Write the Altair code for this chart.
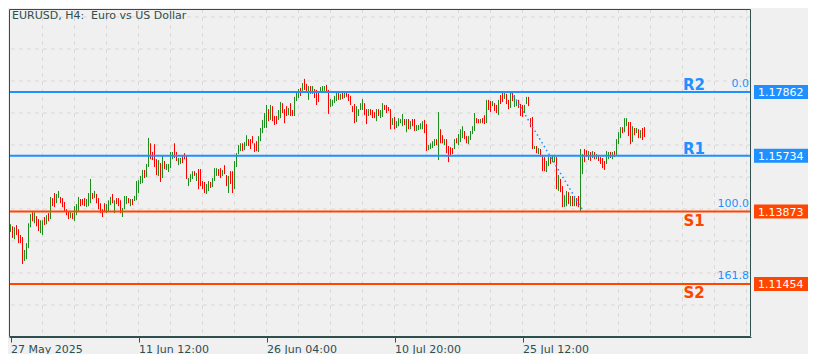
import json
import numpy as np
import pandas as pd
import altair as alt

# ---------------- data ----------------
highs = [
    1.1345, 1.1338, 1.1335, 1.1342, 1.1328, 1.1309, 1.1302, 1.1259, 1.1282, 1.1348,
    1.1379, 1.1385, 1.1385, 1.1372, 1.1362, 1.1358, 1.1358, 1.1369, 1.1375, 1.1382,
    1.1436, 1.1432, 1.1449, 1.1446, 1.1456, 1.1436, 1.1432, 1.1419, 1.1395, 1.1389,
    1.1385, 1.1382, 1.1405, 1.1412, 1.1436, 1.1429, 1.1429, 1.1432, 1.1429, 1.1449,
    1.1496, 1.1449, 1.1456, 1.1446, 1.1432, 1.1415, 1.1395, 1.1415, 1.1412, 1.1425,
    1.1436, 1.1446, 1.1425, 1.1432, 1.1432, 1.1425, 1.1399, 1.1439, 1.1439, 1.1432,
    1.1429, 1.1429, 1.1439, 1.1489, 1.1492, 1.1506, 1.1526, 1.1526, 1.1546, 1.1633,
    1.1615, 1.1586, 1.1612, 1.1562, 1.1559, 1.1549, 1.1576, 1.1556, 1.1546, 1.1546,
    1.1586, 1.1586, 1.1615, 1.1586, 1.1566, 1.1566, 1.1572, 1.1582, 1.1576, 1.1499,
    1.1512, 1.1522, 1.1522, 1.1516, 1.1529, 1.1529, 1.1489, 1.1486, 1.1479, 1.1489,
    1.1486, 1.1499, 1.1532, 1.1532, 1.1529, 1.1532, 1.1526, 1.1542, 1.1509, 1.1506,
    1.1522, 1.1522, 1.1556, 1.1582, 1.1609, 1.1615, 1.1615, 1.1619, 1.1642, 1.1629,
    1.1629, 1.1639, 1.1615, 1.1622, 1.1639, 1.1666, 1.1693, 1.1716, 1.1743, 1.1729,
    1.1743, 1.1739, 1.1706, 1.1706, 1.1726, 1.1753, 1.1749, 1.1729, 1.1739, 1.1733,
    1.1749, 1.1726, 1.1770, 1.1786, 1.1796, 1.1800, 1.1816, 1.1830, 1.1813, 1.1806,
    1.1806, 1.1806, 1.1796, 1.1793, 1.1786, 1.1803, 1.1806, 1.1806, 1.1810, 1.1793,
    1.1763, 1.1760, 1.1773, 1.1783, 1.1786, 1.1780, 1.1783, 1.1786, 1.1786, 1.1780,
    1.1773, 1.1739, 1.1746, 1.1739, 1.1729, 1.1749, 1.1763, 1.1749, 1.1729, 1.1729,
    1.1729, 1.1726, 1.1719, 1.1729, 1.1729, 1.1726, 1.1749, 1.1743, 1.1743, 1.1736,
    1.1729, 1.1699, 1.1703, 1.1689, 1.1699, 1.1696, 1.1713, 1.1696, 1.1696, 1.1696,
    1.1689, 1.1696, 1.1696, 1.1676, 1.1676, 1.1682, 1.1689, 1.1693, 1.1679, 1.1609,
    1.1615, 1.1622, 1.1629, 1.1629, 1.1719, 1.1662, 1.1642, 1.1629, 1.1629, 1.1606,
    1.1602, 1.1599, 1.1629, 1.1632, 1.1646, 1.1662, 1.1672, 1.1656, 1.1639, 1.1639,
    1.1656, 1.1672, 1.1716, 1.1699, 1.1696, 1.1696, 1.1699, 1.1709, 1.1760, 1.1760,
    1.1756, 1.1756, 1.1749, 1.1743, 1.1760, 1.1776, 1.1783, 1.1783, 1.1780, 1.1760,
    1.1783, 1.1783, 1.1776, 1.1760, 1.1760, 1.1746, 1.1743, 1.1743, 1.1770, 1.1770,
    1.1699, 1.1703, 1.1606, 1.1606, 1.1599, 1.1596, 1.1576, 1.1569, 1.1556, 1.1569,
    1.1569, 1.1576, 1.1572, 1.1569, 1.1509, 1.1496, 1.1472, 1.1442, 1.1456, 1.1452,
    1.1439, 1.1439, 1.1436, 1.1432, 1.1439, 1.1596, 1.1579, 1.1596, 1.1592, 1.1589,
    1.1586, 1.1589, 1.1586, 1.1579, 1.1576, 1.1569, 1.1566, 1.1556, 1.1589, 1.1586,
    1.1586, 1.1586, 1.1589, 1.1629, 1.1652, 1.1669, 1.1669, 1.1699, 1.1699, 1.1686,
    1.1686, 1.1672, 1.1666, 1.1666, 1.1662, 1.1659, 1.1666, 1.1669,
]

lows = [
    1.1319, 1.1299, 1.1295, 1.1309, 1.1282, 1.1282, 1.1212, 1.1222, 1.1228, 1.1265,
    1.1335, 1.1355, 1.1348, 1.1338, 1.1322, 1.1315, 1.1309, 1.1342, 1.1345, 1.1355,
    1.1362, 1.1405, 1.1402, 1.1415, 1.1432, 1.1415, 1.1402, 1.1389, 1.1375, 1.1362,
    1.1365, 1.1362, 1.1355, 1.1375, 1.1389, 1.1405, 1.1409, 1.1405, 1.1402, 1.1405,
    1.1415, 1.1429, 1.1432, 1.1415, 1.1395, 1.1382, 1.1369, 1.1385, 1.1382, 1.1389,
    1.1409, 1.1415, 1.1382, 1.1412, 1.1405, 1.1382, 1.1369, 1.1395, 1.1412, 1.1415,
    1.1405, 1.1409, 1.1422, 1.1425, 1.1449, 1.1479, 1.1482, 1.1499, 1.1502, 1.1536,
    1.1562, 1.1559, 1.1536, 1.1509, 1.1506, 1.1486, 1.1499, 1.1529, 1.1526, 1.1519,
    1.1532, 1.1562, 1.1566, 1.1556, 1.1542, 1.1546, 1.1549, 1.1562, 1.1496, 1.1472,
    1.1486, 1.1496, 1.1506, 1.1489, 1.1462, 1.1472, 1.1462, 1.1449, 1.1446, 1.1456,
    1.1466, 1.1469, 1.1489, 1.1506, 1.1506, 1.1499, 1.1506, 1.1512, 1.1472, 1.1449,
    1.1479, 1.1449, 1.1462, 1.1536, 1.1579, 1.1589, 1.1589, 1.1592, 1.1606, 1.1606,
    1.1596, 1.1615, 1.1586, 1.1589, 1.1586, 1.1622, 1.1649, 1.1666, 1.1666, 1.1689,
    1.1693, 1.1689, 1.1676, 1.1679, 1.1693, 1.1699, 1.1716, 1.1682, 1.1706, 1.1709,
    1.1706, 1.1706, 1.1706, 1.1756, 1.1766, 1.1773, 1.1790, 1.1793, 1.1790, 1.1760,
    1.1780, 1.1780, 1.1766, 1.1743, 1.1753, 1.1783, 1.1783, 1.1790, 1.1786, 1.1713,
    1.1736, 1.1739, 1.1749, 1.1756, 1.1760, 1.1760, 1.1763, 1.1766, 1.1770, 1.1756,
    1.1743, 1.1719, 1.1682, 1.1686, 1.1706, 1.1726, 1.1726, 1.1709, 1.1679, 1.1706,
    1.1709, 1.1699, 1.1699, 1.1689, 1.1706, 1.1699, 1.1703, 1.1726, 1.1716, 1.1723,
    1.1662, 1.1676, 1.1662, 1.1666, 1.1672, 1.1682, 1.1672, 1.1676, 1.1652, 1.1662,
    1.1662, 1.1672, 1.1656, 1.1656, 1.1659, 1.1662, 1.1662, 1.1649, 1.1589, 1.1592,
    1.1596, 1.1599, 1.1606, 1.1609, 1.1559, 1.1615, 1.1615, 1.1609, 1.1582, 1.1552,
    1.1572, 1.1579, 1.1596, 1.1615, 1.1609, 1.1619, 1.1632, 1.1629, 1.1615, 1.1612,
    1.1626, 1.1646, 1.1656, 1.1682, 1.1682, 1.1682, 1.1682, 1.1679, 1.1682, 1.1726,
    1.1719, 1.1739, 1.1723, 1.1716, 1.1709, 1.1746, 1.1753, 1.1763, 1.1746, 1.1729,
    1.1733, 1.1756, 1.1736, 1.1739, 1.1733, 1.1706, 1.1703, 1.1716, 1.1746, 1.1739,
    1.1669, 1.1596, 1.1596, 1.1582, 1.1579, 1.1572, 1.1522, 1.1522, 1.1519, 1.1539,
    1.1546, 1.1552, 1.1552, 1.1462, 1.1456, 1.1452, 1.1402, 1.1402, 1.1405, 1.1412,
    1.1405, 1.1405, 1.1405, 1.1405, 1.1402, 1.1389, 1.1512, 1.1552, 1.1569, 1.1559,
    1.1556, 1.1566, 1.1562, 1.1562, 1.1556, 1.1546, 1.1532, 1.1526, 1.1546, 1.1562,
    1.1566, 1.1562, 1.1569, 1.1576, 1.1612, 1.1632, 1.1649, 1.1652, 1.1672, 1.1639,
    1.1612, 1.1619, 1.1642, 1.1649, 1.1632, 1.1632, 1.1626, 1.1636,
]

# 1 = bullish (green) candle, 0 = bearish (red) candle
bull = [
    1, 0, 1, 0, 0, 0, 0, 1, 1, 1,
    1, 0, 1, 0, 0, 1, 1, 0, 1, 0,
    1, 0, 0, 1, 1, 0, 0, 0, 0, 0,
    1, 0, 1, 1, 1, 0, 0, 0, 1, 1,
    1, 0, 1, 0, 0, 0, 0, 0, 1, 1,
    1, 0, 1, 0, 0, 0, 1, 1, 1, 0,
    1, 0, 1, 1, 1, 1, 1, 0, 1, 1,
    0, 0, 0, 0, 1, 0, 1, 0, 1, 1,
    1, 1, 0, 0, 1, 1, 0, 0, 0, 1,
    1, 1, 0, 1, 0, 0, 0, 0, 1, 1,
    0, 1, 1, 1, 0, 0, 1, 0, 0, 1,
    0, 0, 1, 1, 1, 1, 0, 1, 1, 0,
    0, 0, 0, 0, 1, 1, 1, 1, 1, 0,
    1, 0, 0, 0, 1, 1, 0, 0, 0, 1,
    0, 0, 1, 1, 1, 0, 1, 0, 0, 1,
    0, 1, 0, 0, 0, 1, 1, 1, 0, 0,
    1, 1, 1, 1, 0, 1, 0, 1, 0, 0,
    0, 0, 0, 1, 1, 1, 1, 0, 0, 1,
    0, 0, 0, 1, 0, 1, 1, 0, 0, 0,
    0, 1, 0, 1, 1, 1, 1, 0, 1, 0,
    1, 0, 0, 1, 1, 1, 1, 0, 0, 1,
    1, 1, 1, 0, 1, 0, 0, 1, 0, 0,
    0, 0, 1, 0, 1, 1, 1, 0, 0, 1,
    1, 1, 1, 0, 0, 1, 0, 0, 1, 0,
    0, 1, 0, 0, 1, 0, 0, 1, 0, 0,
    1, 0, 1, 1, 0, 0, 0, 1, 1, 0,
    0, 0, 1, 0, 1, 0, 0, 0, 1, 1,
    0, 1, 1, 0, 1, 0, 0, 1, 1, 0,
    1, 0, 1, 0, 0, 1, 1, 0, 0, 1,
    0, 1, 0, 1, 0, 0, 0, 0, 1, 1,
    0, 1, 0, 1, 1, 1, 0, 1, 1, 0,
    0, 1, 0, 1, 0, 1, 0, 0,
]

tick_bars = [0, 64, 128, 192, 256]
tick_labels = ["27 May 2025", "11 Jun 12:00", "26 Jun 04:00", "10 Jul 20:00", "25 Jul 12:00"]

level_names = ["R2", "R1", "S1", "S2"]
level_prices = [1.17862, 1.15734, 1.13873, 1.11454]
level_kind = ["R", "R", "S", "S"]
fib_texts = ["0.0", "", "100.0", "161.8"]

fib_bars = [250.5, 286.5]
fib_prices = [1.17862, 1.13873]

title_text = "EURUSD, H4:\u00a0 Euro vs US Dollar"

# ---------------- styling ----------------
BLUE = "#1E90FF"
ORANGE = "#FF4500"
GREEN = "#1e8c1e"
RED = "#FF0000"
SLATE = "#2F4F4F"
BG = "#F0F0F0"
GRIDC = "#d9d9d9"
FONT = "DejaVu Sans"

W, H = 742, 328
xscale = alt.Scale(domain=[-0.75, 370.25], nice=False, zero=False)
yscale = alt.Scale(domain=[1.09685, 1.20632], nice=False, zero=False)

n = min(len(highs), len(lows), len(bull))
bars = pd.DataFrame({
    "i": np.arange(n),
    "high": np.maximum(highs[:n], lows[:n]),
    "low": np.minimum(highs[:n], lows[:n]),
    "dir": bull[:n],
})
bars["col"] = np.where(bars["dir"] == 1, GREEN, RED)

levels = pd.DataFrame({
    "name": level_names,
    "price": level_prices,
    "kind": level_kind,
    "fib": fib_texts,
})
levels["col"] = np.where(levels["kind"] == "R", BLUE, ORANGE)
levels["label"] = [f"{p:.5f}" for p in level_prices]

hgrid = pd.DataFrame({"price": [1.20365 - 0.01068 * k for k in range(10)]})
vgrid = pd.DataFrame({"bar": list(range(16, 371, 16))})

fib_line = pd.DataFrame({
    "x1": [fib_bars[0]], "x2": [fib_bars[1]],
    "y1": [fib_prices[0]], "y2": [fib_prices[1]],
})

label_expr = json.dumps(tick_labels) + "[round(datum.value/64)]"

xaxis = alt.Axis(
    values=tick_bars, labelExpr=label_expr, grid=False,
    domain=True, domainColor=SLATE, ticks=True, tickColor=SLATE, tickSize=5,
    labelColor=SLATE, labelFont=FONT, labelFontSize=11, labelAlign="left",
    labelBaseline="top", labelPadding=1, labelFlush=False, labelOverlap=False,
    labelBound=False,
)

hgrid_layer = alt.Chart(hgrid).mark_rule(color=GRIDC, strokeDash=[4, 4], strokeWidth=1).encode(
    y=alt.Y("price:Q", scale=yscale, axis=None)
)
vgrid_layer = alt.Chart(vgrid).mark_rule(color=GRIDC, strokeDash=[4, 4], strokeWidth=1).encode(
    x=alt.X("bar:Q", scale=xscale, axis=xaxis, title="")
)

candles = alt.Chart(bars).mark_rule(strokeWidth=1).encode(
    x=alt.X("i:Q", scale=xscale, axis=xaxis, title=""),
    y=alt.Y("low:Q", scale=yscale, axis=None),
    y2="high:Q",
    color=alt.Color("col:N", scale=None),
)

level_lines = alt.Chart(levels).mark_rule(strokeWidth=2).encode(
    y=alt.Y("price:Q", scale=yscale, axis=None),
    color=alt.Color("col:N", scale=None),
)

trend = alt.Chart(fib_line).mark_rule(color=BLUE, strokeDash=[1.5, 3], strokeWidth=1.5).encode(
    x=alt.X("x1:Q", scale=xscale, axis=xaxis, title=""), x2="x2:Q",
    y=alt.Y("y1:Q", scale=yscale, axis=None), y2="y2:Q",
)

r_labels = alt.Chart(levels).transform_filter(alt.datum.kind == "R").mark_text(
    font=FONT, fontWeight="bold", fontSize=15, align="center", baseline="alphabetic",
    dy=-2, color=BLUE,
).encode(x=alt.value(685), y=alt.Y("price:Q", scale=yscale, axis=None), text="name:N")

s_labels = alt.Chart(levels).transform_filter(alt.datum.kind == "S").mark_text(
    font=FONT, fontWeight="bold", fontSize=15, align="center", baseline="alphabetic",
    dy=14.5, color=ORANGE,
).encode(x=alt.value(685), y=alt.Y("price:Q", scale=yscale, axis=None), text="name:N")

fib_labels = alt.Chart(levels).transform_filter(alt.datum.fib != "").mark_text(
    font=FONT, fontSize=11, align="right", baseline="alphabetic", dy=-4.5, color=BLUE,
).encode(x=alt.value(740), y=alt.Y("price:Q", scale=yscale, axis=None), text="fib:N")

boxes = alt.Chart(levels).mark_rect(yOffset=-7, y2Offset=7).encode(
    x=alt.value(745), x2=alt.value(799),
    y=alt.Y("price:Q", scale=yscale, axis=None), y2="price:Q",
    color=alt.Color("col:N", scale=None),
)

box_text = alt.Chart(levels).mark_text(
    font=FONT, fontSize=11, align="left", baseline="alphabetic", dy=4.5, color="white",
).encode(x=alt.value(749), y=alt.Y("price:Q", scale=yscale, axis=None), text="label:N")

title_layer = alt.Chart(pd.DataFrame({"t": [title_text]})).mark_text(
    font=FONT, fontSize=11, align="left", baseline="alphabetic", color=SLATE,
).encode(x=alt.value(3), y=alt.value(10), text="t:N")

frame = alt.Chart(pd.DataFrame({"f": [0]})).mark_rect(
    fillOpacity=0, stroke=SLATE, strokeWidth=1,
).encode(x=alt.value(0.5), x2=alt.value(W - 0.5), y=alt.value(0.5), y2=alt.value(H - 0.5))

chart = alt.layer(
    hgrid_layer, vgrid_layer, candles, level_lines, trend,
    r_labels, s_labels, fib_labels, boxes, box_text, title_layer, frame,
).properties(
    width=W, height=H, padding=0, background=BG,
).configure_view(
    stroke=BG, strokeWidth=1, fill=BG,
)

chart.save("out.html", embed_options={"renderer": "svg", "actions": False})
